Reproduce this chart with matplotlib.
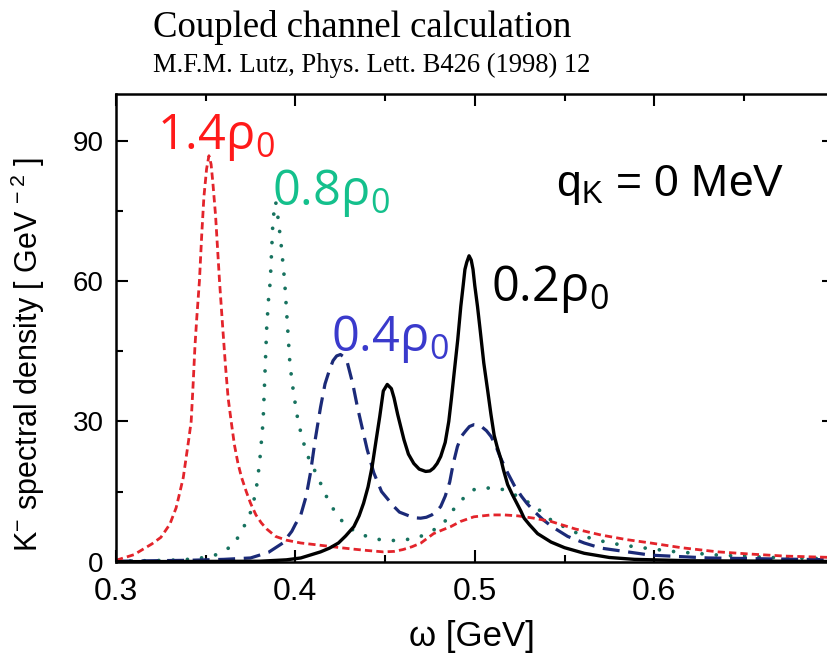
import matplotlib
matplotlib.use('Agg')
import matplotlib.pyplot as plt
from matplotlib.ticker import MultipleLocator, FixedLocator

plt.rcParams['font.family'] = ['Liberation Sans', 'DejaVu Sans']
plt.rcParams['mathtext.default'] = 'regular'

# omega [GeV] vs K- spectral density [GeV^-2]
w_14 = [0.300, 0.310, 0.320, 0.325, 0.330, 0.3335, 0.3355, 0.3375, 0.339, 0.3405,
        0.3419, 0.343, 0.344, 0.345, 0.3465, 0.3478, 0.349, 0.3505, 0.3518, 0.353,
        0.354, 0.3555, 0.3577, 0.3595, 0.361, 0.3625, 0.3642, 0.366, 0.368, 0.370,
        0.3726, 0.375, 0.378, 0.381, 0.384, 0.389, 0.395, 0.403, 0.412, 0.425,
        0.432, 0.440, 0.449, 0.455, 0.460, 0.465, 0.470, 0.477, 0.482, 0.4866,
        0.492, 0.4995, 0.509, 0.5165, 0.524, 0.533, 0.5425, 0.556, 0.5704, 0.585,
        0.598, 0.615, 0.6356, 0.655, 0.6728, 0.700]
s_14 = [0.3, 1.5, 3.8, 5.2, 8.0, 11.5, 14.7, 18.0, 22.0, 26.0,
        30.0, 38.0, 46.0, 52.0, 60.0, 70.0, 78.0, 84.0, 86.8, 85.0,
        81.0, 74.0, 60.0, 50.0, 42.0, 35.0, 30.0, 25.0, 21.0, 18.0,
        15.0, 12.5, 10.0, 8.3, 7.0, 5.4, 4.6, 4.0, 3.6, 3.0,
        2.7, 2.4, 2.1, 2.2, 2.6, 3.2, 4.0, 6.0, 6.8, 7.5,
        8.6, 9.6, 10.0, 10.0, 9.8, 9.3, 8.6, 7.0, 5.7, 4.7,
        4.0, 3.0, 2.1, 1.6, 1.2, 0.9]

w_08 = [0.300, 0.330, 0.345, 0.356, 0.3655, 0.372, 0.3755, 0.378, 0.380, 0.382,
        0.383, 0.384, 0.385, 0.386, 0.3875, 0.3885, 0.389, 0.3905, 0.392, 0.394,
        0.3955, 0.397, 0.399, 0.4015, 0.4028, 0.4045, 0.407, 0.4095, 0.412, 0.4155,
        0.419, 0.423, 0.4268, 0.432, 0.437, 0.443, 0.449, 0.458, 0.468, 0.476,
        0.4828, 0.4866, 0.4935, 0.4995, 0.505, 0.5145, 0.524, 0.533, 0.5425, 0.552,
        0.561, 0.575, 0.589, 0.610, 0.636, 0.665, 0.700]
s_08 = [0.1, 0.3, 0.6, 1.5, 3.5, 8.0, 11.0, 15.0, 21.0, 30.0,
        40.0, 50.0, 56.0, 60.0, 73.0, 76.0, 77.0, 73.0, 68.0, 60.0,
        51.0, 42.0, 36.0, 30.0, 28.0, 25.5, 22.5, 20.5, 18.5, 15.5,
        12.5, 10.2, 8.3, 6.8, 5.8, 5.0, 4.6, 4.5, 5.1, 6.5,
        8.3, 10.5, 13.5, 15.4, 15.8, 15.6, 14.0, 12.0, 8.9, 7.0,
        5.4, 4.0, 3.2, 2.2, 1.4, 0.9, 0.6]

w_04 = [0.300, 0.340, 0.360, 0.375, 0.385, 0.393, 0.398, 0.400, 0.403, 0.406,
        0.4084, 0.411, 0.414, 0.4165, 0.419, 0.421, 0.423, 0.4251, 0.427, 0.429,
        0.430, 0.432, 0.4345, 0.437, 0.440, 0.4437, 0.448, 0.4549, 0.458, 0.462,
        0.466, 0.4698, 0.473, 0.476, 0.4785, 0.481, 0.4835, 0.486, 0.488, 0.4903,
        0.4925, 0.495, 0.497, 0.4995, 0.502, 0.504, 0.5065, 0.509, 0.5115, 0.514,
        0.5183, 0.522, 0.526, 0.529, 0.533, 0.538, 0.543, 0.5518, 0.561, 0.5704,
        0.598, 0.630, 0.700]
s_04 = [0.1, 0.3, 0.5, 0.8, 2.0, 4.0, 6.5, 8.0, 10.0, 14.0,
        19.0, 26.0, 33.0, 38.0, 41.0, 43.0, 44.0, 44.3, 43.8, 42.5,
        41.0, 38.0, 33.2, 29.0, 24.0, 19.0, 15.0, 11.8, 10.6, 10.0,
        9.4, 9.3, 9.5, 10.0, 10.7, 11.8, 14.0, 17.0, 21.0, 24.6,
        26.8, 28.0, 28.9, 29.3, 29.2, 28.8, 28.0, 26.8, 25.0, 22.5,
        19.0, 16.3, 14.0, 12.5, 10.8, 9.0, 7.5, 5.4, 4.0, 2.9,
        1.4, 0.8, 0.4]

w_02 = [0.300, 0.380, 0.395, 0.403, 0.414, 0.419, 0.424, 0.428, 0.4326, 0.4355,
        0.438, 0.4405, 0.4428, 0.445, 0.447, 0.449, 0.4512, 0.4535, 0.455, 0.457,
        0.4605, 0.463, 0.466, 0.469, 0.4726, 0.475, 0.477, 0.479, 0.481, 0.4835,
        0.4855, 0.487, 0.4885, 0.4905, 0.4922, 0.4935, 0.4945, 0.4955, 0.4968, 0.498,
        0.499, 0.500, 0.5015, 0.503, 0.505, 0.5071, 0.509, 0.5108, 0.5125, 0.5145,
        0.516, 0.5183, 0.521, 0.5257, 0.5275, 0.5305, 0.535, 0.5425, 0.550, 0.561,
        0.575, 0.589, 0.620, 0.700]
s_02 = [0.0, 0.1, 0.4, 0.8, 2.1, 2.9, 4.0, 5.5, 7.5, 9.8,
        12.5, 16.0, 20.4, 26.0, 31.0, 36.5, 37.9, 37.0, 35.0, 31.5,
        26.1, 23.0, 21.0, 19.8, 19.3, 19.4, 20.0, 21.0, 22.5, 25.5,
        30.0, 35.0, 40.4, 47.5, 54.6, 59.0, 62.5, 64.0, 65.4, 64.5,
        62.5, 59.0, 54.6, 49.5, 42.5, 36.8, 31.5, 27.0, 24.5, 22.0,
        19.6, 16.5, 14.3, 10.8, 9.3, 7.9, 6.0, 4.2, 3.0, 1.8,
        0.9, 0.5, 0.2, 0.05]

fig = plt.figure(figsize=(8.27, 6.53), dpi=100)
ax = fig.add_axes([116 / 827, 91.3 / 653, 717.6 / 827, 467.7 / 653])

ax.plot(w_08, s_08, color='#17725f', lw=2.7, linestyle=(0, (0.01, 3.8)),
        dash_capstyle='round')
ax.plot(w_04, s_04, color='#1b2a78', lw=2.3, linestyle=(0, (5.3, 2.7)))
ax.plot(w_14, s_14, color='#e3242b', lw=2.0, linestyle=(0, (2.6, 1.5)))
ax.plot(w_02, s_02, color='black', lw=2.4)

ax.set_xlim(0.3, 0.7)
ax.set_ylim(0, 100)
ax.xaxis.set_major_locator(FixedLocator([0.3, 0.4, 0.5, 0.6]))
ax.xaxis.set_minor_locator(MultipleLocator(0.05))
ax.set_xticklabels(['0.3', '0.4', '0.5', '0.6'])
ax.yaxis.set_major_locator(MultipleLocator(30))
ax.yaxis.set_minor_locator(MultipleLocator(15))

for sp in ax.spines.values():
    sp.set_linewidth(1.8)
ax.tick_params(which='both', direction='in', top=True, right=True, width=1.5)
ax.tick_params(which='major', length=8.5)
ax.tick_params(which='minor', length=5)
ax.tick_params(axis='x', labelsize=23, pad=11)
ax.tick_params(axis='y', labelsize=20, pad=9)

ax.set_xlabel('ω [GeV]', fontsize=25)
ax.xaxis.set_label_coords(0.496, -0.124)
ax.set_ylabel('K$^{-}$ spectral density [ GeV$^{\\,-2}$ ]', fontsize=22)
ax.yaxis.set_label_coords(-0.096, 0.442)

lab = dict(fontsize=35, family=['Open Sans', 'DejaVu Sans'], va='baseline')
ax.text(0.3229, 88.2, '1.4ρ$_0$', color='#ff1a1a', **lab)
ax.text(0.387, 76.2, '0.8ρ$_0$', color='#14c08c', **lab)
ax.text(0.4196, 45.0, '0.4ρ$_0$', color='#3a3acc', **lab)
ax.text(0.5089, 55.7, '0.2ρ$_0$', color='black', **lab)
ax.text(0.5453, 78.2, 'q$_K$ = 0 MeV', fontsize=32, va='baseline')

fig.text(153 / 827, 1 - 37 / 653, 'Coupled channel calculation',
         family='Liberation Serif', fontsize=26.5, va='baseline')
fig.text(153 / 827, 1 - 72 / 653, 'M.F.M. Lutz, Phys. Lett. B426 (1998) 12',
         family='Liberation Serif', fontsize=19.2, va='baseline')

fig.savefig('out.png', dpi=100)
